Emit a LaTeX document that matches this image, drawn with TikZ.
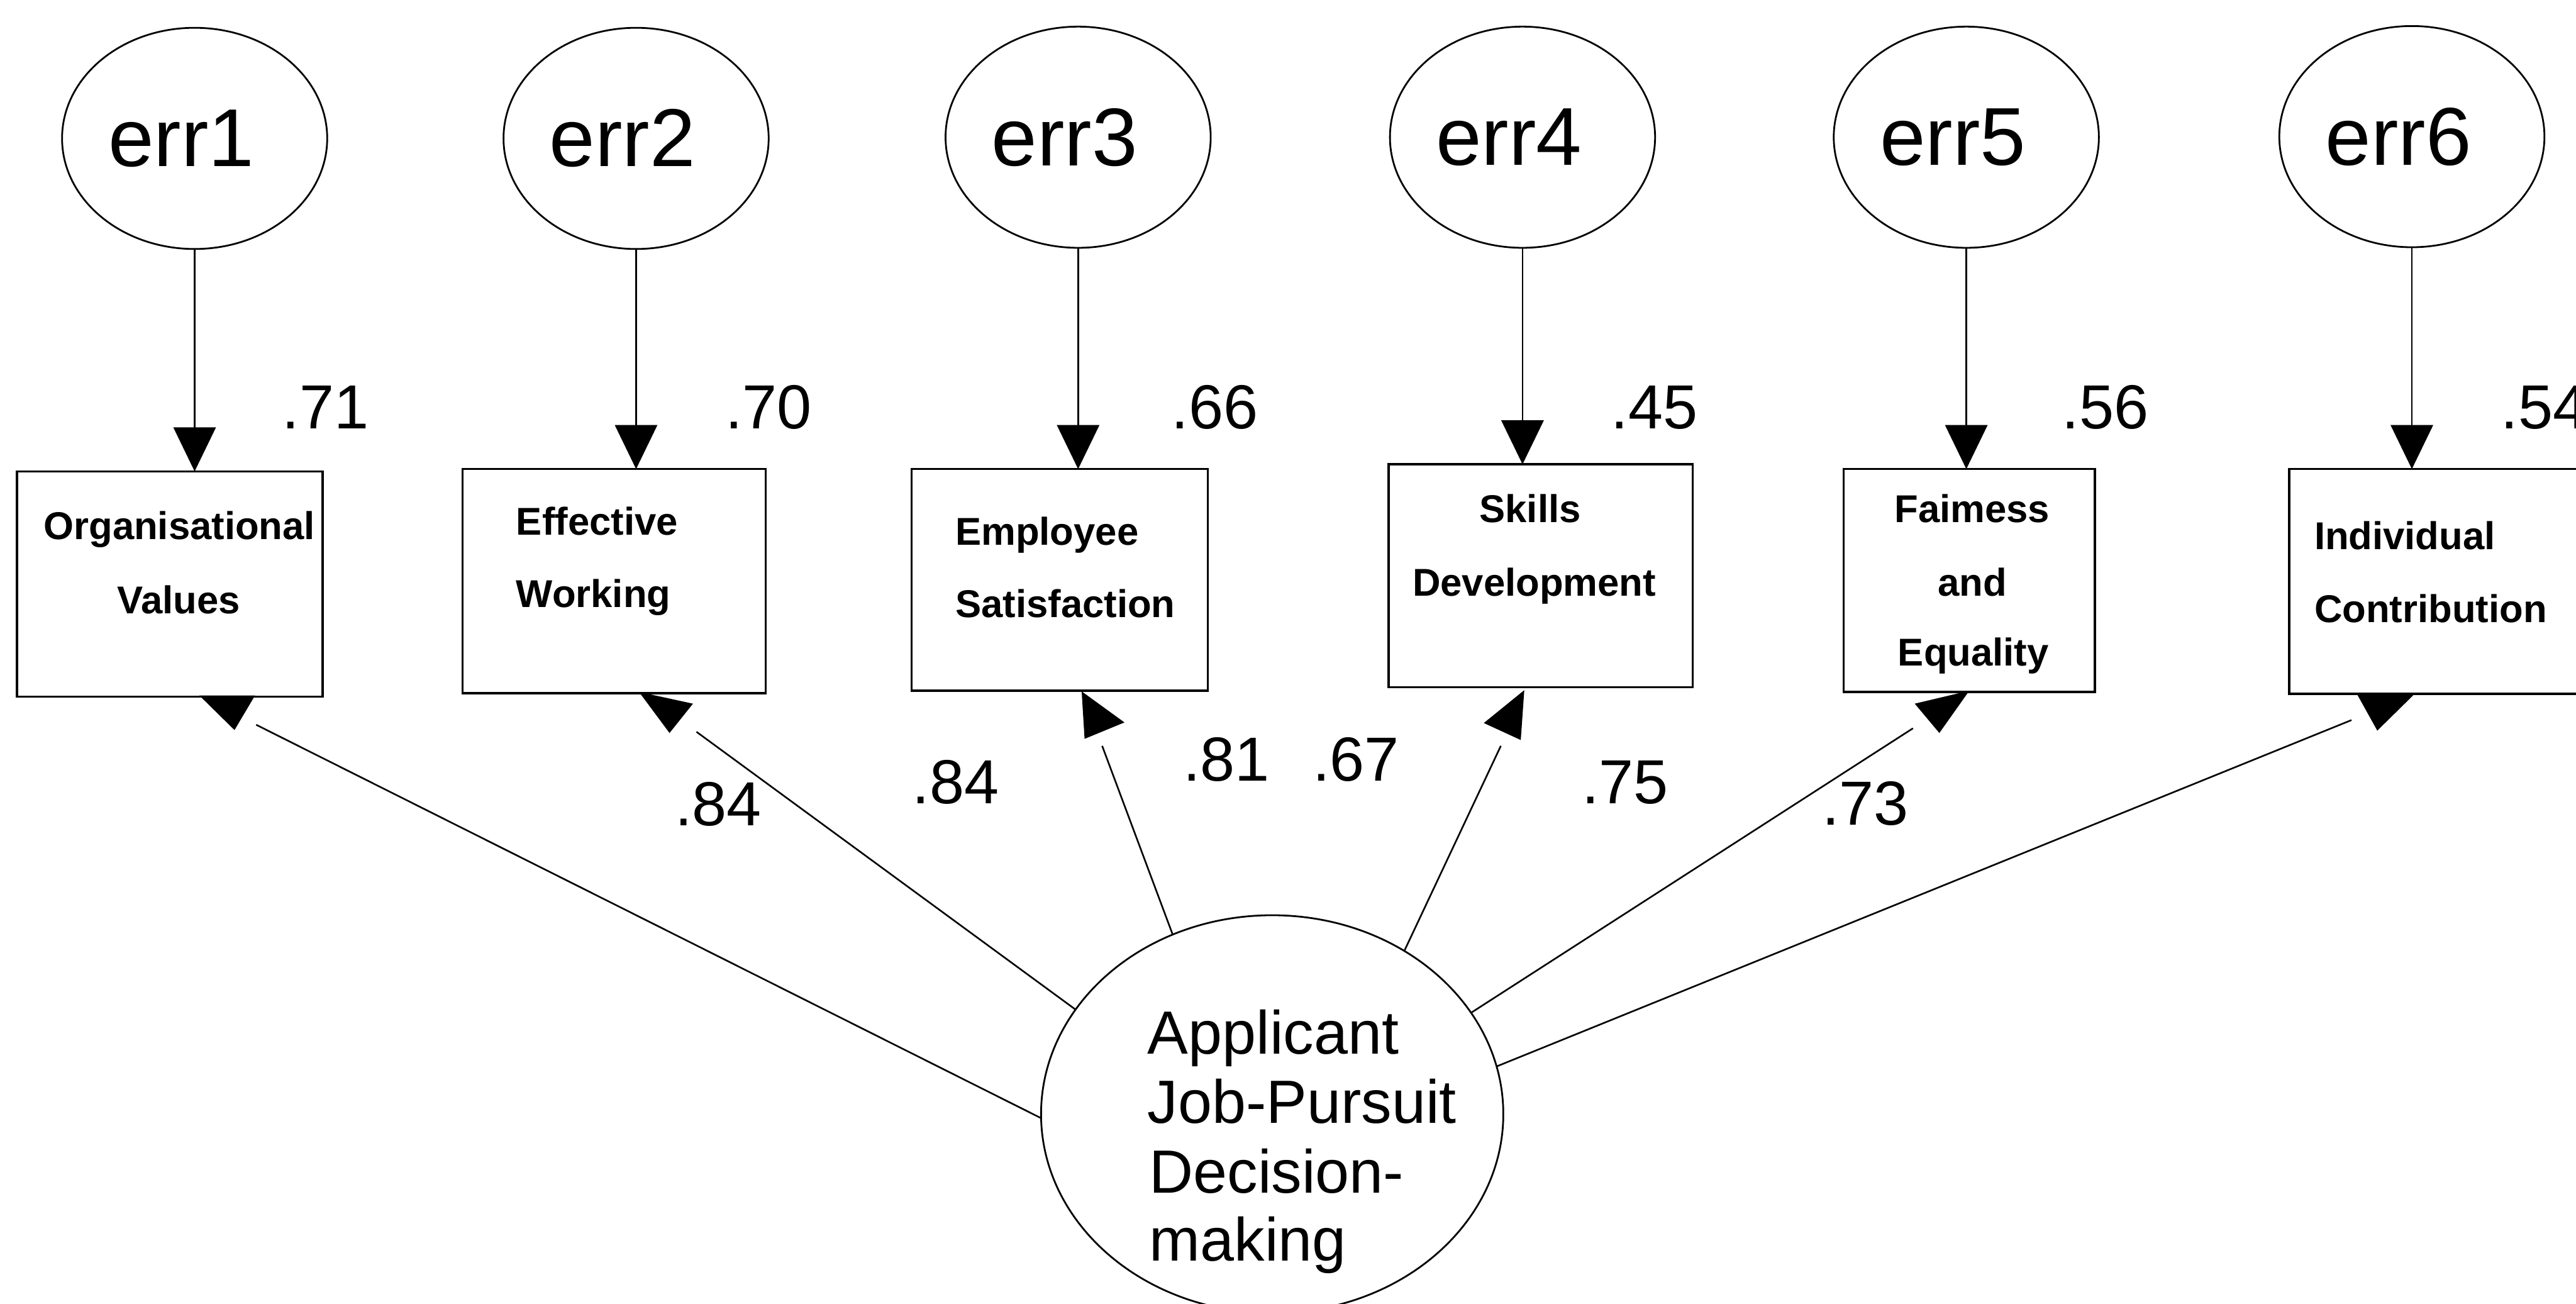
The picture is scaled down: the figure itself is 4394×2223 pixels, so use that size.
\documentclass[tikz,border=0pt]{standalone}
\usepackage{fontspec}
\setmainfont{Liberation Sans}
\usetikzlibrary{arrows.meta,shapes.geometric}
\begin{document}
\begin{tikzpicture}[x=0.01cm,y=-0.01cm,
  errnode/.style={draw,ellipse,line width=0.85pt,minimum width=4.52cm,minimum height=3.77cm,inner sep=0pt,outer sep=0pt},
  obsbox/.style={draw,rectangle,line width=1.1pt,inner sep=0pt,outer sep=0pt},
  latnode/.style={draw,ellipse,line width=0.85pt,minimum width=7.88cm,minimum height=6.78cm,inner sep=0pt,outer sep=0pt},
  errtext/.style={font=\fontsize{39.8}{44}\selectfont},
  coef/.style={font=\fontsize{30.2}{34}\selectfont,anchor=base,inner sep=0pt},
  boxtext/.style={font=\bfseries\fontsize{18.8}{22}\selectfont,inner sep=0pt},
  lattext/.style={font=\fontsize{29.6}{34}\selectfont,inner sep=0pt,anchor=base west},
  errarrow/.style={line width=0.85pt,-{Triangle[width=7.2mm,length=7.5mm]}},
  loading/.style={line width=0.8pt},
  headfill/.style={fill=black}
]
\useasboundingbox (0,0) rectangle (4394,2223);
\fill[white] (0,0) rectangle (4394,2223);
\clip (0,0) rectangle (4394,2223);

% error terms
\foreach \i/\x/\y in {1/332/236,2/1085/236,3/1839/234,4/2597/234,5/3354/234,6/4114/233}{
  \node[errnode,label={[errtext,xshift=-0.23cm]center:err\i}] (e\i) at (\x,\y) {};
}

% observed indicators
\node[obsbox,minimum width=5.21cm,minimum height=3.84cm] (b1) at (289.5,996) {};
\node[obsbox,minimum width=5.17cm,minimum height=3.82cm] (b2) at (1047.5,991) {};
\node[obsbox,minimum width=5.05cm,minimum height=3.78cm] (b3) at (1807.5,989) {};
\node[obsbox,minimum width=5.18cm,minimum height=3.80cm] (b4) at (2628,982) {};
\node[obsbox,minimum width=4.28cm,minimum height=3.80cm] (b5) at (3359,990) {};
\node[obsbox,minimum width=5.20cm,minimum height=3.83cm] (b6) at (4165,991.5) {};

% indicator labels
\node[boxtext,anchor=base] (b1a) at (306,920) {Organisational};
\node[boxtext,anchor=base] (b1b) at (305,1046) {Values};
\node[boxtext,anchor=base west] (b2a) at (880,912) {Effective};
\node[boxtext,anchor=base west] (b2b) at (880,1036) {Working};
\node[boxtext,anchor=base west] (b3a) at (1629,929) {Employee};
\node[boxtext,anchor=base west] (b3b) at (1629,1053) {Satisfaction};
\node[boxtext,anchor=base] (b4a) at (2610,891) {Skills};
\node[boxtext,anchor=base] (b4b) at (2617,1016) {Development};
\node[boxtext,anchor=base] (b5a) at (3364,891) {Faimess};
\node[boxtext,anchor=base] (b5b) at (3364,1016) {and};
\node[boxtext,anchor=base] (b5c) at (3366,1136) {Equality};
\node[boxtext,anchor=base west] (b6a) at (3947,937) {Individual};
\node[boxtext,anchor=base west] (b6b) at (3947,1061) {Contribution};

% error paths
\foreach \i in {1,...,6}{
  \draw[errarrow] (e\i.south) -- (e\i.south |- b\i.north);
}

% squared multiple correlations
\node[coef] (r1) at (555,731) {.71};
\node[coef] (r2) at (1311,731) {.70};
\node[coef] (r3) at (2072,731) {.66};
\node[coef] (r4) at (2822,731) {.45};
\node[coef] (r5) at (3591,731) {.56};
\node[coef] (r6) at (4340,731) {.54};

% latent factor
\node[latnode] (lat) at (2170,1900) {};
\node[lattext] (lat1) at (1957,1797) {Applicant};
\node[lattext] (lat2) at (1957,1915) {Job-Pursuit};
\node[lattext] (lat3) at (1960,2034) {Decision-};
\node[lattext] (lat4) at (1960,2150) {making};

% loading paths
\coordinate (h1) at (437,1236);
\coordinate (h2) at (1188,1248);
\coordinate (h3) at (1880,1272);
\coordinate (h4) at (2560,1272);
\coordinate (h5) at (3263,1242);
\coordinate (h6) at (4011,1228);
\draw[loading] (lat.181.3) -- (h1);
\draw[loading] (lat.152.9) -- (h2);
\draw[loading] (lat.119) -- (h3);
\draw[loading] (lat.51.1) -- (h4);
\draw[loading] (lat.27.8) -- (h5);
\draw[loading] (lat.12.2) -- (h6);

% heads of the loading paths
\fill[headfill] (340,1186) -- (435,1186) -- (400,1245) -- cycle;
\fill[headfill] (1090,1180) -- (1182,1200) -- (1142,1250) -- cycle;
\fill[headfill] (1845,1179) -- (1918,1232) -- (1850,1260) -- cycle;
\fill[headfill] (2600,1177) -- (2531,1233) -- (2594,1262) -- cycle;
\fill[headfill] (3266,1200) -- (3359,1178) -- (3308,1250) -- cycle;
\fill[headfill] (4020,1183) -- (4119,1183) -- (4055,1246) -- cycle;

% standardized loadings
\node[coef] (l1) at (1225,1408) {.84};
\node[coef] (l2) at (1630,1370) {.84};
\node[coef] (l3) at (2092,1332) {.81};
\node[coef] (l4) at (2313,1332) {.67};
\node[coef] (l5) at (2772,1370) {.75};
\node[coef] (l6) at (3182,1407) {.73};
\end{tikzpicture}
\end{document}
